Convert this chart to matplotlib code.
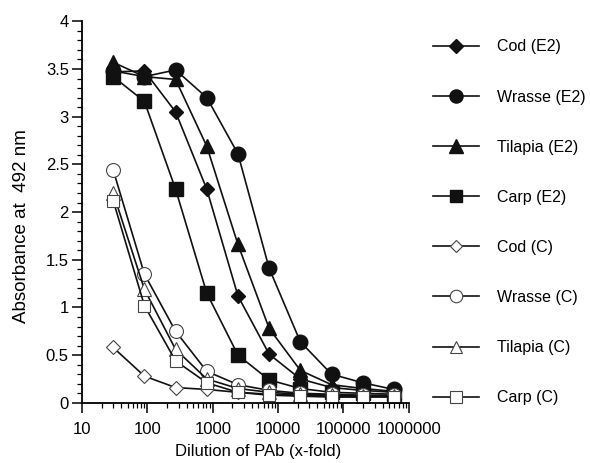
import matplotlib
matplotlib.use('Agg')
import matplotlib.pyplot as plt
from matplotlib.ticker import MultipleLocator, FixedLocator, LogLocator, NullFormatter

plt.rcParams['font.family'] = ['Liberation Sans', 'DejaVu Sans']

dilution = [30, 90, 270, 810, 2430, 7290, 21870, 65610, 196830, 590490]

cod_e2 = [3.47, 3.48, 3.05, 2.24, 1.12, 0.51, 0.25, 0.16, 0.13, 0.11]
wrasse_e2 = [3.48, 3.42, 3.49, 3.20, 2.61, 1.41, 0.64, 0.30, 0.21, 0.14]
tilapia_e2 = [3.57, 3.42, 3.39, 2.69, 1.66, 0.78, 0.34, 0.19, 0.15, 0.12]
carp_e2 = [3.42, 3.16, 2.24, 1.15, 0.50, 0.24, 0.15, 0.11, 0.10, 0.09]
cod_c = [0.58, 0.28, 0.16, 0.14, 0.11, 0.09, 0.08, 0.07, 0.07, 0.07]
wrasse_c = [2.44, 1.35, 0.75, 0.33, 0.19, 0.13, 0.10, 0.09, 0.08, 0.08]
tilapia_c = [2.20, 1.19, 0.56, 0.25, 0.15, 0.11, 0.09, 0.08, 0.07, 0.07]
carp_c = [2.12, 1.02, 0.44, 0.21, 0.11, 0.08, 0.07, 0.06, 0.06, 0.06]

series = [
    ('Cod (E2)', cod_e2, 'D', 7.5, True),
    ('Wrasse (E2)', wrasse_e2, 'o', 10.5, True),
    ('Tilapia (E2)', tilapia_e2, '^', 10.5, True),
    ('Carp (E2)', carp_e2, 's', 9.5, True),
    ('Cod (C)', cod_c, 'D', 7, False),
    ('Wrasse (C)', wrasse_c, 'o', 10, False),
    ('Tilapia (C)', tilapia_c, '^', 9.5, False),
    ('Carp (C)', carp_c, 's', 9, False),
]

fig = plt.figure(figsize=(5.9, 4.63), dpi=100)
ax = fig.add_axes([0.139, 0.130, 0.554, 0.824])

handles = []
for label, values, marker, size, filled in series:
    if filled:
        h, = ax.plot(dilution, values, color='#111111', linewidth=1.2,
                     marker=marker, markersize=size,
                     markerfacecolor='#111111', markeredgecolor='#111111')
    else:
        h, = ax.plot(dilution, values, color='#111111', linewidth=1.2,
                     marker=marker, markersize=size,
                     markerfacecolor='white', markeredgecolor='#444444',
                     markeredgewidth=0.8)
    h.set_label(label)
    handles.append(h)

ax.set_xscale('log')
ax.set_xlim(10, 1000000)
ax.set_ylim(0, 4)
ax.yaxis.set_major_locator(MultipleLocator(0.5))
ax.yaxis.set_minor_locator(MultipleLocator(0.1))
ax.yaxis.set_major_formatter(plt.FuncFormatter(lambda v, p: f'{v:g}'))
ax.xaxis.set_major_locator(FixedLocator([10, 100, 1000, 10000, 100000, 1000000]))
ax.xaxis.set_major_formatter(plt.FuncFormatter(lambda v, p: f'{int(round(v))}'))
ax.xaxis.set_minor_locator(LogLocator(base=10, subs=range(2, 10), numticks=20))
ax.xaxis.set_minor_formatter(NullFormatter())

for side in ['top', 'right']:
    ax.spines[side].set_visible(False)
for side in ['left', 'bottom']:
    ax.spines[side].set_linewidth(1.3)

ax.tick_params(which='major', direction='out', length=7, width=1.1, labelsize=12)
ax.tick_params(which='minor', direction='out', length=3.6, width=0.9)
ax.tick_params(axis='x', which='major', pad=7)
ax.tick_params(axis='y', which='major', pad=2.5)

ax.set_xlabel('Dilution of PAb (x-fold)', fontsize=12)
ax.set_ylabel('Absorbance at  492 nm', fontsize=13.5)
ax.xaxis.set_label_coords(0.538, -0.108)
ax.yaxis.set_label_coords(-0.16, 0.464)

fig.legend(handles=handles, loc='upper left', bbox_to_anchor=(0.709, 0.946),
           frameon=False, fontsize=11.5, handlelength=2.92, handletextpad=1.13,
           labelspacing=2.2, markerscale=0.9)

fig.savefig('out.png', dpi=100)
